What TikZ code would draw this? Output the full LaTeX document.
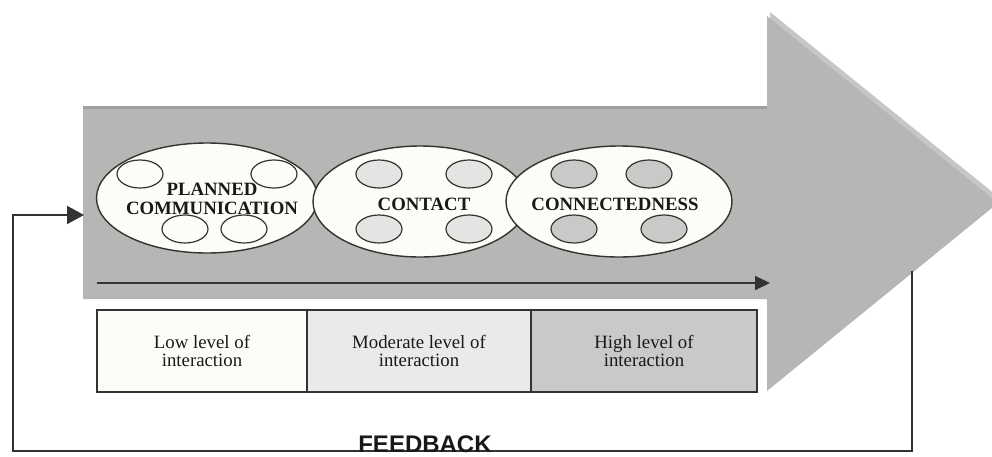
\documentclass[tikz,border=0pt]{standalone}
\usepackage{fontspec}
\setmainfont{Liberation Serif}
\newfontfamily\fbfont{Liberation Sans}
\usepackage{tikz}
\usetikzlibrary{shapes.geometric,arrows.meta}

\definecolor{arrowgray}{HTML}{B5B7B4}
\definecolor{arrowlight}{HTML}{C6C7C5}
\definecolor{arrowdark}{HTML}{9D9F9C}
\definecolor{ivory}{HTML}{FDFDF7}
\definecolor{contactfill}{HTML}{E4E4E3}
\definecolor{connfill}{HTML}{C9CAC8}
\definecolor{modfill}{HTML}{EAEAEA}
\definecolor{linegray}{HTML}{333333}

\begin{document}
\begin{tikzpicture}[x=0.5pt, y=-0.5pt,
    big oval/.style={ellipse,draw=linegray,line width=0.7pt,fill=ivory,inner sep=0pt},
    small oval/.style={ellipse,draw=linegray,line width=0.6pt,minimum width=23pt,
                       minimum height=14pt,inner sep=0pt},
    oval text/.style={font=\bfseries\fontsize{9.4}{9.5}\selectfont,align=center,text=black!90},
    level cell/.style={rectangle,draw=linegray,line width=0.8pt,minimum height=41pt,
                       inner sep=0pt,align=center,text=black!90,font=\fontsize{9.4}{9}\selectfont}]

  \useasboundingbox (0,0) rectangle (992,456);

  % big arrow
  \fill[arrowlight,shift={(3,-4)}] (767,16) -- (998,203) -- (767,391) -- cycle;
  \fill[arrowgray] (83,107) -- (767,107) -- (767,16) -- (998,203) -- (767,391)
    -- (767,299) -- (83,299) -- cycle;
  \draw[arrowdark,line width=1.5pt] (83,107) -- (767,107);

  % stages
  \node[big oval,minimum width=110.5pt,minimum height=55pt] (planned) at (207,198) {};
  \node[big oval,minimum width=107pt,minimum height=55.5pt] (contact) at (420,201.5) {};
  \node[big oval,minimum width=113pt,minimum height=55.5pt] (connected) at (619,201.5) {};

  \node[small oval,fill=ivory] (p1) at (140,174) {};
  \node[small oval,fill=ivory] (p2) at (274,174) {};
  \node[small oval,fill=ivory] (p3) at (185,229) {};
  \node[small oval,fill=ivory] (p4) at (244,229) {};

  \node[small oval,fill=contactfill] (c1) at (379,174) {};
  \node[small oval,fill=contactfill] (c2) at (469,174) {};
  \node[small oval,fill=contactfill] (c3) at (379,229) {};
  \node[small oval,fill=contactfill] (c4) at (469,229) {};

  \node[small oval,fill=connfill] (n1) at (574,174) {};
  \node[small oval,fill=connfill] (n2) at (649,174) {};
  \node[small oval,fill=connfill] (n3) at (574,229) {};
  \node[small oval,fill=connfill] (n4) at (664,229) {};

  \node[oval text] (plantext) at (212,199) {PLANNED\\COMMUNICATION};
  \node[oval text] (contacttext) at (424,204) {CONTACT};
  \node[oval text] (conntext) at (615,204) {CONNECTEDNESS};

  % interaction axis
  \coordinate (axisstart) at (97,283);
  \coordinate (axisend) at (770,283);
  \draw[linegray,line width=1pt,-{Triangle[length=7.5pt,width=7pt]}] (axisstart) -- (axisend);

  % levels
  \node[level cell,fill=ivory,minimum width=105pt] (low) at (202,351)
    {Low level of\\interaction};
  \node[level cell,fill=modfill,minimum width=112pt] (moderate) at (419,351)
    {Moderate level of\\interaction};
  \node[level cell,fill=connfill,minimum width=113pt] (high) at (644,351)
    {High level of\\interaction};

  % feedback loop
  \coordinate (fbtop) at (912,271);
  \coordinate (fbright) at (912,451);
  \coordinate (fbleft) at (13,451);
  \coordinate (fbin) at (84,215);
  \draw[linegray,line width=1pt,-{Triangle[length=8.5pt,width=9pt]}]
    (fbtop) -- (fbright) -- (fbleft) |- (fbin);
  \node[anchor=base,inner sep=0pt,font=\fbfont\bfseries\fontsize{12}{14}\selectfont,text=black!90]
    (fblabel) at (425,452.5) {FEEDBACK};
\end{tikzpicture}
\end{document}
